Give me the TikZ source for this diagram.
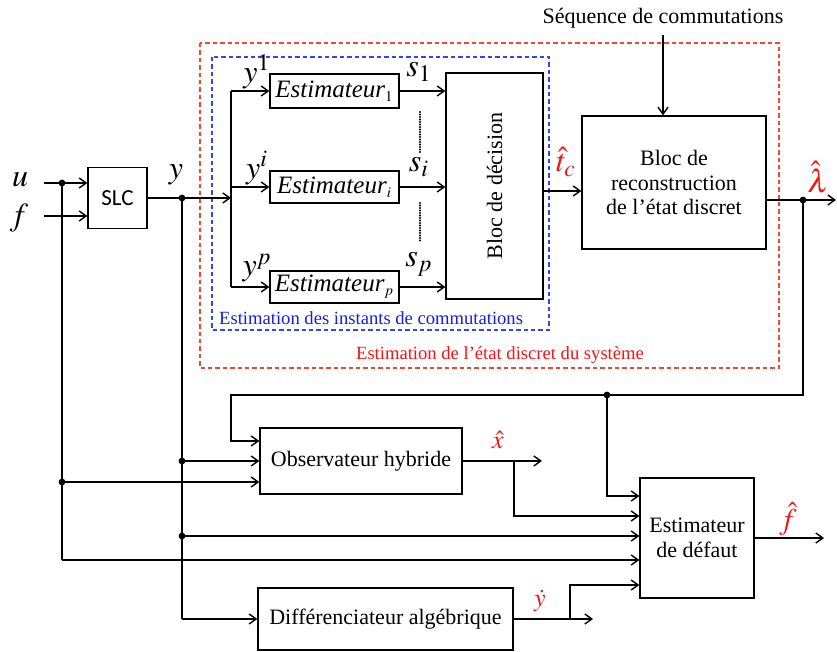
\documentclass[tikz,border=0pt]{standalone}
\usepackage{mathptmx}
\usepackage[no-math]{fontspec}
\setmainfont{Liberation Serif}
\newfontfamily\slcfont{Carlito}
\usetikzlibrary{arrows.meta,calc}
\definecolor{redd}{RGB}{240,70,50}
\definecolor{blued}{RGB}{50,70,240}
\definecolor{redt}{RGB}{245,20,20}
\definecolor{bluet}{RGB}{20,30,230}
\begin{document}
\begin{tikzpicture}[x=0.5pt,y=-0.5pt,line width=0.55pt,
  font=\fontsize{11}{13}\selectfont,
  box/.style={draw,line width=0.65pt,inner sep=0pt,align=center},
  arr/.style={-{Straight Barb[length=3.5pt,width=5pt,line width=0.7pt]}},
  mlab/.style={font=\fontsize{16}{18}\selectfont},
  rlab/.style={text=redt},
  dotsline/.style={line width=1.1pt,line cap=round,dash pattern=on 0pt off 1.25pt}]
\useasboundingbox (0,0) rectangle (837,652);

% dashed frames
\draw[redd,dash pattern=on 2.2pt off 1.5pt] (200,43) rectangle (779,368);
\draw[blued,dash pattern=on 2.2pt off 1.5pt] (212,57) rectangle (549,330);
\node[anchor=west,text=bluet,font=\fontsize{9.3}{11}\selectfont] (bl) at (212,318) {Estimation des instants de commutations};
\node[text=redt,font=\fontsize{9.3}{11}\selectfont] (rl) at (500,355) {Estimation de l’état discret du système};

% boxes
\node[box,minimum width=29.5pt,minimum height=30.5pt,font=\slcfont\fontsize{11.5}{13}\selectfont] (slc) at (117.5,198) {SLC};
\node[box,minimum width=64.5pt,minimum height=17pt] (est1) at (334.5,91) {\fontsize{12.5}{14}\selectfont\textit{Estimateur}$_{\scriptscriptstyle 1}$};
\node[box,minimum width=64.5pt,minimum height=16pt] (esti) at (334.5,187) {\fontsize{12.5}{14}\selectfont\textit{Estimateur}$_{\scriptscriptstyle i}$};
\node[box,minimum width=64.5pt,minimum height=16pt] (estp) at (334.5,287) {\fontsize{12.5}{14}\selectfont\textit{Estimateur}$_{\scriptscriptstyle p}$};
\node[box,minimum width=48.5pt,minimum height=113pt] (dec) at (494.5,186) {};
\node[rotate=90] (dect) at (dec.center) {Bloc de décision};
\node[box,minimum width=92pt,minimum height=66.5pt,font=\fontsize{11}{12.2}\selectfont] (rec) at (674,182.5) {Bloc de\\reconstruction\\de l’état discret};
\node (seq) at (663,18) {Séquence de commutations};
\node[box,minimum width=101pt,minimum height=33pt] (obs) at (361,461) {Observateur hybride};
\node[box,minimum width=57pt,minimum height=60pt,font=\fontsize{11}{12.2}\selectfont] (estd) at (697,538) {Estimateur\\de défaut};
\node[box,minimum width=127.5pt,minimum height=31pt] (diff) at (385.5,619) {Différenciateur algébrique};

% labels
\node[mlab] (lu) at (20,180) {$u$};
\node[mlab] (lf) at (19,218) {$f$};
\node[mlab] (ly) at (176,175) {$y$};
\node[mlab] (ly1) at (257,72) {$y^{1}$};
\node[mlab] (lyi) at (257,168) {$y^{i}$};
\node[mlab] (lyp) at (257,268) {$y^{p}$};
\node[mlab] (ls1) at (419,72) {$s_{1}$};
\node[mlab] (lsi) at (419,167) {$s_{i}$};
\node[mlab] (lsp) at (419,264) {$s_{p}$};
\node[mlab,rlab] (ltc) at (566,162) {$\hat{t}_{c}$};
\node[mlab,rlab] (llam) at (818,177) {$\hat{\lambda}$};
\node[rlab,font=\fontsize{13}{15}\selectfont] (lx) at (498,440) {$\hat{x}$};
\node[rlab,font=\fontsize{13}{15}\selectfont] (ldy) at (540,601) {$\dot{y}$};
\node[rlab,font=\fontsize{15}{17}\selectfont] (lfh) at (788,519) {$\hat{f}$};

% coordinates
\coordinate (uin) at (44,183);
\coordinate (fin) at (44,216);
\coordinate (ju) at (62,183);
\coordinate (ju2) at (62,482);
\coordinate (ju3) at (62,560);
\coordinate (jy) at (182,198);
\coordinate (jy2) at (182,461);
\coordinate (jy3) at (182,536);
\coordinate (jy4) at (182,619);
\coordinate (bus) at (231,198);
\coordinate (bust) at (231,91);
\coordinate (busb) at (231,287);
\coordinate (tc) at (543,191);
\coordinate (jl) at (803,200);
\coordinate (lout) at (836,200);
\coordinate (fb1) at (803,395);
\coordinate (fb2) at (231,395);
\coordinate (fb3) at (231,441);
\coordinate (jfb) at (607,395);
\coordinate (e1) at (607,496);
\coordinate (jx) at (514,461);
\coordinate (xout) at (542,461);
\coordinate (e2) at (514,516);
\coordinate (dout) at (593,619);
\coordinate (jd) at (570,619);
\coordinate (e5) at (570,585);
\coordinate (fout) at (824,538);
\coordinate (d1a) at (420,112);
\coordinate (d1b) at (420,153);
\coordinate (d2a) at (420,203);
\coordinate (d2b) at (420,243);

% connectors
\draw[arr] (uin) -- (uin -| slc.west);
\draw[arr] (fin) -- (fin -| slc.west);
\draw (ju) -- (ju3);
\draw[arr] (slc.east) -- (bus);
\draw (bust) -- (busb);
\draw[arr] (bust) -- (est1.west);
\draw[arr] (bus |- esti.west) -- (esti.west);
\draw[arr] (busb) -- (estp.west);
\draw[arr] (est1.east) -- (est1.east -| dec.west);
\draw[arr] (esti.east) -- (esti.east -| dec.west);
\draw[arr] (estp.east) -- (estp.east -| dec.west);
\draw[dotsline] (d1a) -- (d1b);
\draw[dotsline] (d2a) -- (d2b);
\draw[arr] (tc) -- (tc -| rec.west);
\draw[arr] (seq.south) -- (seq.south |- rec.north);
\draw (jl -| rec.east) -- (jl);
\draw[arr] (jl) -- (lout);
\draw[arr] (jl) -- (fb1) -- (fb2) -- (fb3) -- (fb3 -| obs.west);
\draw[arr] (jfb) -- (e1) -- (e1 -| estd.west);
\draw (jy) -- (jy4);
\draw[arr] (jy2) -- (jy2 -| obs.west);
\draw[arr] (ju2) -- (ju2 -| obs.west);
\draw[arr] (jy3) -- (jy3 -| estd.west);
\draw[arr] (ju3) -- (ju3 -| estd.west);
\draw[arr] (jy4) -- (diff.west);
\draw[arr] (obs.east) -- (xout);
\draw[arr] (jx) -- (e2) -- (e2 -| estd.west);
\draw[arr] (diff.east) -- (dout);
\draw[arr] (jd) -- (e5) -- (e5 -| estd.west);
\draw[arr] (estd.east) -- (fout);

% junction dots
\foreach \p in {ju,ju2,jy,jy2,jy3,jl,jfb} \fill (\p) circle (1.7pt);
\end{tikzpicture}
\end{document}
